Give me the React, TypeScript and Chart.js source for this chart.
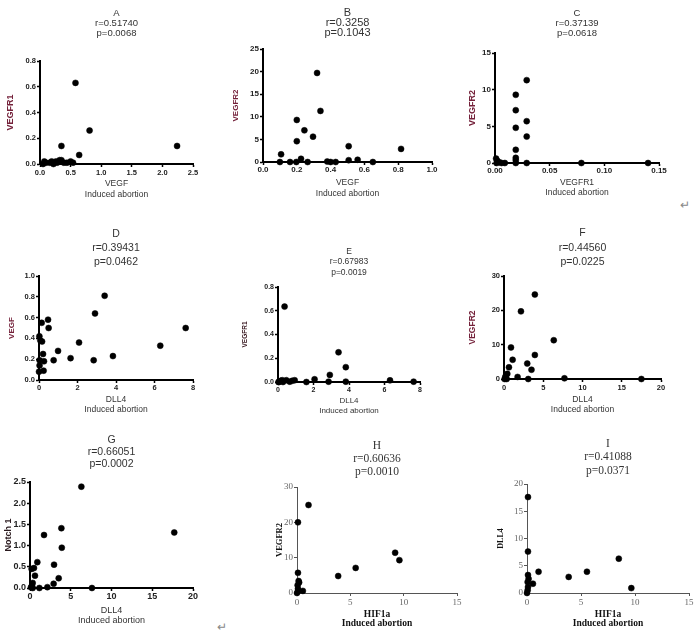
import React, { useEffect, useRef } from 'react';
import { Chart, registerables } from 'chart.js';
Chart.register(...registerables);

// ---------- DATA ----------
// A: VEGF vs VEGFR1
const aVEGF = [0.58, 0.81, 0.64, 0.35, 2.24, 0.05, 0.07, 0.1, 0.16, 0.19, 0.22, 0.26, 0.28, 0.32, 0.35, 0.39, 0.44, 0.5, 0.54];
const aVEGFR1 = [0.63, 0.26, 0.07, 0.14, 0.14, 0.0, 0.02, 0.01, 0.01, 0.02, 0.0, 0.02, 0.01, 0.03, 0.03, 0.01, 0.01, 0.02, 0.01];
// B: VEGF vs VEGFR2
const bVEGF = [0.32, 0.34, 0.2, 0.245, 0.296, 0.2, 0.107, 0.507, 0.817, 0.56, 0.507, 0.225, 0.1, 0.16, 0.197, 0.264, 0.38, 0.4, 0.43, 0.65];
const bVEGFR2 = [19.7, 11.3, 9.3, 7.0, 5.6, 4.6, 1.7, 3.5, 2.9, 0.5, 0.4, 0.7, 0, 0, 0, 0, 0.1, 0, 0, 0];
// C: VEGFR1 vs VEGFR2
const cVEGFR1 = [0.029, 0.019, 0.019, 0.029, 0.019, 0.029, 0.019, 0.019, 0.019, 0.029, 0.019, 0.079, 0.14, 0.001, 0.002, 0.004, 0.006, 0.009, 0.0015];
const cVEGFR2 = [11.3, 9.3, 7.2, 5.7, 4.8, 3.6, 1.8, 0.7, 0.4, 0, 0, 0, 0, 0.6, 0.3, 0.1, 0, 0, 0];
// D: DLL4 vs VEGF
const dDLL4 = [3.41, 2.91, 0.47, 0.14, 0.5, 7.62, 0.02, 0.07, 0.16, 2.08, 6.3, 0.99, 0.21, 3.84, 1.64, 0.76, 2.84, 0.03, 0.26, 0.03, 0, 0.24];
const dVEGF = [0.81, 0.64, 0.58, 0.55, 0.5, 0.5, 0.42, 0.38, 0.37, 0.36, 0.33, 0.28, 0.25, 0.23, 0.21, 0.19, 0.19, 0.19, 0.18, 0.14, 0.08, 0.09];
// E: DLL4 vs VEGFR1
const eDLL4 = [0.37, 3.41, 3.82, 2.92, 2.06, 2.85, 3.82, 1.6, 6.31, 7.64, 0.05, 0.15, 0.24, 0.47, 0.66, 0.8, 0.94, 0.03, 0.28];
const eVEGFR1 = [0.635, 0.25, 0.125, 0.06, 0.023, 0.003, 0.003, 0.0, 0.014, 0.003, 0, 0.01, 0.015, 0.015, 0.003, 0.01, 0.015, 0, 0];
// F: DLL4 vs VEGFR2
const fDLL4 = [3.93, 2.16, 6.34, 0.89, 3.93, 1.1, 2.96, 3.5, 0.63, 0.42, 1.73, 7.7, 17.5, 3.09, 0.17, 0.08, 0.34, 0.25];
const fVEGFR2 = [24.6, 19.7, 11.3, 9.2, 7.0, 5.6, 4.5, 2.7, 3.4, 1.5, 0.6, 0.2, 0, 0, 0.6, 0, 0, 1.0];
// G: DLL4 vs Notch 1
const gDLL4 = [6.3, 17.7, 3.85, 1.72, 3.9, 0.9, 2.95, 0.49, 0.2, 0.61, 3.52, 2.9, 2.13, 1.15, 7.6, 0.33, 0.25, 0.12, 0.33];
const gNotch1 = [2.39, 1.31, 1.41, 1.25, 0.95, 0.61, 0.55, 0.47, 0.45, 0.29, 0.23, 0.1, 0.02, 0.0, 0.0, 0.12, 0.05, 0.02, 0.0];
// H: HIF1a vs VEGFR2
const hHIF1a = [1.08, 0.09, 9.2, 9.6, 3.86, 5.5, 0.09, 0.15, 0.2, 0.06, 0.09, 0.55, 0, 0.1];
const hVEGFR2 = [24.9, 20, 11.4, 9.3, 4.8, 7.1, 5.7, 3.4, 3.0, 2.2, 1.2, 0.6, 0, 0.5];
// I: HIF1a vs DLL4
const iHIF1a = [0.09, 0.09, 8.5, 1.07, 5.55, 3.86, 0.55, 0.09, 0.15, 0.06, 9.66, 0.09, 0.06, 0];
const iDLL4 = [17.6, 7.6, 6.3, 3.9, 3.9, 2.95, 1.7, 3.3, 2.6, 2.0, 0.9, 1.1, 0.5, 0];

// Panel titles / labels
const titlesA = ['A', 'r=0.51740', 'p=0.0068'];
const titlesB = ['B', 'r=0.3258', 'p=0.1043'];
const titlesC = ['C', 'r=0.37139', 'p=0.0618'];
const titlesD = ['D', 'r=0.39431', 'p=0.0462'];
const titlesE = ['E', 'r=0.67983', 'p=0.0019'];
const titlesF = ['F', 'r=0.44560', 'p=0.0225'];
const titlesG = ['G', 'r=0.66051', 'p=0.0002'];
const titlesH = ['H', 'r=0.60636', 'p=0.0010'];
const titlesI = ['I', 'r=0.41088', 'p=0.0371'];

const SANS = '"Liberation Sans", Arial, sans-serif';
const SERIF = '"Liberation Serif", "Times New Roman", serif';
const MAROON = '#74213a';

type P = {
  title: string[]; xs: number[]; ys: number[];
  xTitle: string[]; yTitle: string; yTitleColor: string; yTitleSize: number;
  xMax: number; xStep: number; xDec: number; yMax: number; yStep: number; yDec: number;
  L: number; R: number; T: number; B: number;
  serif?: boolean; titleY1: number; titleLH: number; titleSize: number;
  tickY: number; tickSize: number; xTitleLastY: number; xTitleLH: number; xTitleSize: number;
  yTitleX: number; rightPad: number;
};

const panels: P[] = [
  { title: titlesA, xs: aVEGF, ys: aVEGFR1, xTitle: ['VEGF', 'Induced abortion'], yTitle: 'VEGFR1', yTitleColor: MAROON, yTitleSize: 9,
    xMax: 2.5, xStep: 0.5, xDec: 1, yMax: 0.8, yStep: 0.2, yDec: 1,
    L: 40, R: 193, T: 61, B: 164, titleY1: 12.5, titleLH: 10, titleSize: 9.5,
    tickY: 173, tickSize: 7.5, xTitleLastY: 194, xTitleLH: 11, xTitleSize: 8.5, yTitleX: 10, rightPad: 12 },
  { title: titlesB, xs: bVEGF, ys: bVEGFR2, xTitle: ['VEGF', 'Induced abortion'], yTitle: 'VEGFR2', yTitleColor: MAROON, yTitleSize: 8,
    xMax: 1.0, xStep: 0.2, xDec: 1, yMax: 25, yStep: 5, yDec: 0,
    L: 263, R: 432, T: 49, B: 162, titleY1: 12.7, titleLH: 9.8, titleSize: 11,
    tickY: 170, tickSize: 8, xTitleLastY: 193, xTitleLH: 11, xTitleSize: 8.5, yTitleX: 236, rightPad: 12 },
  { title: titlesC, xs: cVEGFR1, ys: cVEGFR2, xTitle: ['VEGFR1', 'Induced abortion'], yTitle: 'VEGFR2', yTitleColor: MAROON, yTitleSize: 9,
    xMax: 0.15, xStep: 0.05, xDec: 2, yMax: 15, yStep: 5, yDec: 0,
    L: 495, R: 659, T: 53, B: 163, titleY1: 12.7, titleLH: 10.3, titleSize: 9.5,
    tickY: 171, tickSize: 8, xTitleLastY: 193, xTitleLH: 10, xTitleSize: 8.5, yTitleX: 472, rightPad: 12 },
  { title: titlesD, xs: dDLL4, ys: dVEGF, xTitle: ['DLL4', 'Induced abortion'], yTitle: 'VEGF', yTitleColor: MAROON, yTitleSize: 8,
    xMax: 8, xStep: 2, xDec: 0, yMax: 1.0, yStep: 0.2, yDec: 1,
    L: 39, R: 193, T: 276, B: 380, titleY1: 234, titleLH: 14, titleSize: 10.5,
    tickY: 388, tickSize: 7.5, xTitleLastY: 410, xTitleLH: 10, xTitleSize: 8.5, yTitleX: 12, rightPad: 10 },
  { title: titlesE, xs: eDLL4, ys: eVEGFR1, xTitle: ['DLL4', 'Induced abortion'], yTitle: 'VEGFR1', yTitleColor: '#3a1a22', yTitleSize: 6.5,
    xMax: 8, xStep: 2, xDec: 0, yMax: 0.8, yStep: 0.2, yDec: 1,
    L: 278, R: 420, T: 287, B: 382, titleY1: 251, titleLH: 10.5, titleSize: 8.5,
    tickY: 390, tickSize: 7, xTitleLastY: 411, xTitleLH: 10, xTitleSize: 8, yTitleX: 245, rightPad: 10 },
  { title: titlesF, xs: fDLL4, ys: fVEGFR2, xTitle: ['DLL4', 'Induced abortion'], yTitle: 'VEGFR2', yTitleColor: MAROON, yTitleSize: 8.5,
    xMax: 20, xStep: 5, xDec: 0, yMax: 30, yStep: 10, yDec: 0,
    L: 504, R: 661, T: 276, B: 379, titleY1: 233, titleLH: 14.5, titleSize: 10.5,
    tickY: 388, tickSize: 7.5, xTitleLastY: 410, xTitleLH: 10, xTitleSize: 8.5, yTitleX: 473, rightPad: 12 },
  { title: titlesG, xs: gDLL4, ys: gNotch1, xTitle: ['DLL4', 'Induced abortion'], yTitle: 'Notch 1', yTitleColor: '#2a1a1e', yTitleSize: 9,
    xMax: 20, xStep: 5, xDec: 0, yMax: 2.5, yStep: 0.5, yDec: 1,
    L: 30, R: 193, T: 482, B: 588, titleY1: 440, titleLH: 12, titleSize: 10.5,
    tickY: 597, tickSize: 9, xTitleLastY: 620.5, xTitleLH: 10.5, xTitleSize: 9, yTitleX: 8, rightPad: 12 },
  { title: titlesH, xs: hHIF1a, ys: hVEGFR2, xTitle: ['HIF1a', 'Induced abortion'], yTitle: 'VEGFR2', yTitleColor: '#111', yTitleSize: 8.5,
    xMax: 15, xStep: 5, xDec: 0, yMax: 30, yStep: 10, yDec: 0,
    L: 297, R: 457, T: 487, B: 593, serif: true, titleY1: 445, titleLH: 13, titleSize: 11.5,
    tickY: 603, tickSize: 9, xTitleLastY: 623, xTitleLH: 9, xTitleSize: 9.5, yTitleX: 280, rightPad: 10 },
  { title: titlesI, xs: iHIF1a, ys: iDLL4, xTitle: ['HIF1a', 'Induced abortion'], yTitle: 'DLL4', yTitleColor: '#111', yTitleSize: 8,
    xMax: 15, xStep: 5, xDec: 0, yMax: 20, yStep: 5, yDec: 0,
    L: 527, R: 689, T: 484, B: 593, serif: true, titleY1: 444, titleLH: 13.5, titleSize: 11.5,
    tickY: 603, tickSize: 9, xTitleLastY: 623, xTitleLH: 9, xTitleSize: 9.5, yTitleX: 501, rightPad: 8 },
];

const TL = 3;
function geom(p: P) {
  const yTitleLH = p.yTitleSize * 1.2;
  const cx = Math.round(p.yTitleX - yTitleLH / 2);
  const cy = Math.round(p.titleY1 - p.titleLH / 2 - 2);
  const W = p.L - cx;
  const cw = Math.round(p.R + p.rightPad - cx);
  const ch = Math.round(p.xTitleLastY + p.xTitleLH / 2 - cy);
  const H = cy + ch - p.B;
  return { cx, cy, cw, ch, W, H, yTitleLH };
}

function makeChart(canvas: HTMLCanvasElement, p: P) {
  const g = geom(p);
  const fam = p.serif ? SERIF : SANS;
  const axisColor = p.serif ? '#555' : '#000';
  const tickColor = p.serif ? '#666' : '#222';
  const tickLH = p.tickSize * 1.2;
  const tp = Math.max(0, p.tickY - p.B - TL - tickLH / 2);
  const fmt = (d: number) => (v: any) => Number(v).toFixed(d);
  return new Chart(canvas, {
    type: 'scatter',
    data: {
      datasets: [{
        data: p.xs.map((x, i) => ({ x, y: p.ys[i] })),
        pointRadius: 3,
        pointHoverRadius: 3,
        pointBackgroundColor: '#000',
        pointBorderColor: '#000',
        pointBorderWidth: 0.5,
        showLine: false,
        clip: false as any,
      }],
    },
    options: {
      responsive: false,
      animation: false,
      devicePixelRatio: 1,
      layout: { padding: { left: 0, top: 0, bottom: 0, right: p.rightPad } },
      plugins: {
        legend: { display: false },
        tooltip: { enabled: false },
        title: {
          display: true,
          text: p.title,
          fullSize: false,
          color: '#333',
          font: { family: fam, size: p.titleSize, weight: 'normal', lineHeight: p.titleLH + 'px' },
          padding: { top: 2, bottom: Math.max(0, p.T - g.cy - 2 - 3 * p.titleLH) },
        },
      },
      scales: {
        x: {
          type: 'linear', min: 0, max: p.xMax,
          ticks: {
            stepSize: p.xStep, autoSkip: false, maxRotation: 0, padding: tp,
            color: tickColor, callback: fmt(p.xDec),
            font: { family: fam, size: p.tickSize, weight: p.serif ? 'normal' : 'bold' },
          },
          grid: { drawOnChartArea: false, drawTicks: true, tickLength: TL, tickColor: axisColor, tickWidth: p.serif ? 1 : 1.5 },
          border: { display: true, color: axisColor, width: p.serif ? 1 : 2 },
          title: {
            display: true, text: p.xTitle, color: p.serif ? '#111' : '#333', padding: { top: 0, bottom: 0 },
            font: { family: fam, size: p.xTitleSize, weight: p.serif ? 'bold' : 'normal', lineHeight: p.xTitleLH + 'px' },
          },
          afterFit: (s: any) => { s.height = g.H; },
        },
        y: {
          type: 'linear', min: 0, max: p.yMax,
          ticks: {
            stepSize: p.yStep, autoSkip: false, padding: 1,
            color: tickColor, callback: fmt(p.yDec),
            font: { family: fam, size: p.tickSize, weight: p.serif ? 'normal' : 'bold' },
          },
          grid: { drawOnChartArea: false, drawTicks: true, tickLength: TL, tickColor: axisColor, tickWidth: p.serif ? 1 : 1.5 },
          border: { display: true, color: axisColor, width: p.serif ? 1 : 2 },
          title: {
            display: true, text: p.yTitle, color: p.yTitleColor, padding: { top: 0, bottom: 0 },
            font: { family: fam, size: p.yTitleSize, weight: 'bold', lineHeight: g.yTitleLH + 'px' },
          },
          afterFit: (s: any) => { s.width = g.W; },
        },
      },
    } as any,
  });
}

export default function App() {
  const refs = useRef<(HTMLCanvasElement | null)[]>([]);
  useEffect(() => {
    const charts = panels.map((p, i) => makeChart(refs.current[i]!, p));
    return () => charts.forEach((c) => c.destroy());
  }, []);
  return (
    <div style={{ position: 'absolute', left: 0, top: 0, width: 697, height: 636, background: '#fff', overflow: 'hidden' }}>
      {panels.map((p, i) => {
        const g = geom(p);
        return (
          <canvas
            key={i}
            ref={(el) => { refs.current[i] = el; }}
            width={g.cw}
            height={g.ch}
            style={{ position: 'absolute', left: g.cx, top: g.cy, width: g.cw, height: g.ch }}
          />
        );
      })}
      <span style={{ position: 'absolute', left: 680, top: 198, fontSize: 12, color: '#888', fontFamily: SANS }}>↵</span>
      <span style={{ position: 'absolute', left: 217, top: 620, fontSize: 12, color: '#888', fontFamily: SANS }}>↵</span>
    </div>
  );
}
